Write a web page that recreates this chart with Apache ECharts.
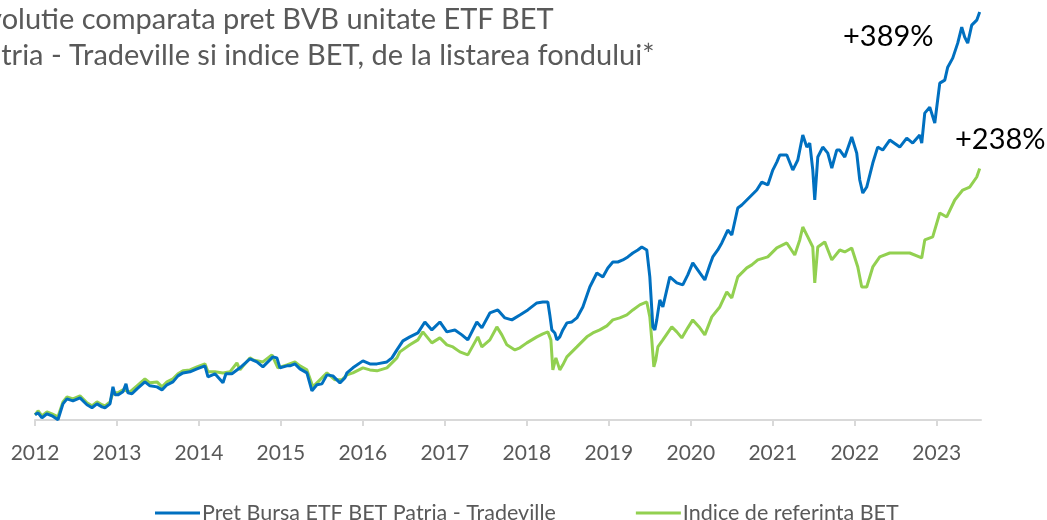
<!DOCTYPE html>
<html>
<head>
<meta charset="utf-8">
<script src="https://cdn.jsdelivr.net/npm/echarts@6/dist/echarts.min.js"></script>
<style>html,body{margin:0;padding:0;background:#fff}#c{width:1047px;height:520px}</style>
</head>
<body>
<div id="c"></div>
<script>
const titleLines = ["Evolutie comparata pret BVB unitate ETF BET", "Patria - Tradeville si indice BET, de la listarea fondului*"];
const seriesNames = ["Pret Bursa ETF BET Patria - Tradeville", "Indice de referinta BET"];
const tickYears = [2012,2013,2014,2015,2016,2017,2018,2019,2020,2021,2022,2023];
const annotations = ["+389%", "+238%"];

const blueYears = [2012.000,2012.037,2012.085,2012.146,2012.207,2012.280,2012.341,2012.390,2012.463,2012.549,2012.634,2012.695,2012.756,2012.817,2012.854,2012.915,2012.951,2012.976,2013.012,2013.073,2013.110,2013.134,2013.183,2013.244,2013.341,2013.402,2013.488,2013.549,2013.610,2013.683,2013.744,2013.805,2013.890,2013.976,2014.073,2014.110,2014.195,2014.293,2014.329,2014.402,2014.500,2014.622,2014.707,2014.780,2014.841,2014.902,2014.951,2014.988,2015.073,2015.110,2015.171,2015.232,2015.317,2015.378,2015.439,2015.500,2015.561,2015.634,2015.720,2015.780,2015.805,2015.878,2016.000,2016.085,2016.171,2016.293,2016.354,2016.415,2016.488,2016.573,2016.671,2016.756,2016.841,2016.939,2017.024,2017.122,2017.207,2017.280,2017.390,2017.451,2017.549,2017.646,2017.732,2017.817,2017.915,2018.012,2018.122,2018.195,2018.256,2018.280,2018.305,2018.341,2018.366,2018.402,2018.439,2018.488,2018.549,2018.610,2018.683,2018.768,2018.854,2018.927,2018.988,2019.049,2019.110,2019.171,2019.232,2019.293,2019.354,2019.402,2019.463,2019.500,2019.537,2019.561,2019.585,2019.622,2019.659,2019.707,2019.744,2019.829,2019.902,2019.963,2020.024,2020.110,2020.171,2020.232,2020.268,2020.329,2020.378,2020.451,2020.500,2020.573,2020.622,2020.683,2020.744,2020.805,2020.866,2020.939,2021.000,2021.049,2021.085,2021.171,2021.244,2021.305,2021.366,2021.415,2021.451,2021.488,2021.512,2021.549,2021.610,2021.671,2021.720,2021.780,2021.817,2021.878,2021.963,2022.024,2022.061,2022.098,2022.146,2022.220,2022.280,2022.341,2022.427,2022.549,2022.634,2022.707,2022.793,2022.817,2022.854,2022.915,2022.976,2023.037,2023.098,2023.134,2023.195,2023.256,2023.305,2023.341,2023.378,2023.427,2023.488,2023.524];
const blueValues = [100,101.9,97.1,101.0,99.0,95.2,110.6,115.4,113.5,116.4,109.7,106.8,110.6,107.7,106.8,110.6,127.0,119.3,119.3,122.2,129.9,121.2,120.3,125.1,131.8,128.0,127.0,124.1,129.0,131.8,137.6,140.5,141.5,144.4,147.3,136.7,139.6,130.9,139.6,139.6,145.4,154.0,151.1,146.3,151.1,156.0,155.0,145.4,147.3,147.3,149.2,144.4,140.5,123.2,129.0,129.9,138.6,137.6,130.9,135.7,140.5,145.4,152.1,149.2,149.2,151.1,155.0,162.7,171.4,175.3,179.1,189.7,182.0,189.7,180.1,182.0,177.2,172.4,189.7,184.0,198.4,201.3,193.6,191.7,196.5,201.3,208.1,209.0,209.0,196.5,182.0,179.1,172.4,175.3,182.0,188.8,189.7,193.6,204.2,223.5,237.0,233.2,241.9,247.6,247.6,249.6,252.5,256.3,259.2,262.1,259.2,233.2,184.9,182.0,191.7,211.0,204.2,220.6,233.2,227.4,225.5,235.1,246.7,237.0,230.3,244.8,252.5,259.2,266.0,278.5,273.7,299.8,302.7,307.5,312.3,317.1,324.8,322.0,336.4,344.1,350.9,350.9,336.4,346.1,370.2,358.6,362.5,336.4,307.5,349.0,358.6,352.8,338.4,355.7,355.7,349.0,368.3,352.8,326.8,314.2,320.0,343.2,358.6,355.7,365.4,358.6,367.3,362.5,370.2,362.5,391.4,397.2,381.8,420.4,423.3,435.8,444.5,459.0,474.4,464.8,459.0,476.4,481.2,489.0];

const greenYears = [2012.000,2012.037,2012.085,2012.146,2012.207,2012.280,2012.341,2012.390,2012.463,2012.549,2012.634,2012.695,2012.756,2012.817,2012.854,2012.915,2012.951,2013.012,2013.073,2013.159,2013.244,2013.341,2013.402,2013.488,2013.549,2013.610,2013.683,2013.744,2013.805,2013.890,2013.976,2014.073,2014.110,2014.195,2014.293,2014.378,2014.463,2014.500,2014.622,2014.659,2014.780,2014.890,2014.963,2015.073,2015.171,2015.232,2015.317,2015.390,2015.476,2015.561,2015.659,2015.744,2015.805,2015.878,2016.000,2016.085,2016.171,2016.293,2016.415,2016.451,2016.573,2016.671,2016.732,2016.841,2016.939,2017.024,2017.098,2017.183,2017.280,2017.402,2017.451,2017.549,2017.634,2017.695,2017.756,2017.854,2017.915,2018.000,2018.122,2018.195,2018.256,2018.293,2018.317,2018.354,2018.378,2018.402,2018.439,2018.488,2018.549,2018.610,2018.732,2018.805,2018.890,2018.976,2019.049,2019.134,2019.220,2019.293,2019.378,2019.463,2019.500,2019.524,2019.549,2019.573,2019.598,2019.659,2019.768,2019.829,2019.890,2019.963,2020.024,2020.110,2020.171,2020.256,2020.354,2020.439,2020.500,2020.573,2020.683,2020.744,2020.817,2020.939,2021.049,2021.171,2021.268,2021.329,2021.366,2021.427,2021.488,2021.512,2021.549,2021.634,2021.720,2021.817,2021.878,2021.963,2022.037,2022.085,2022.146,2022.220,2022.305,2022.427,2022.549,2022.671,2022.817,2022.854,2022.951,2023.037,2023.122,2023.220,2023.317,2023.402,2023.488,2023.524];
const greenValues = [100,103.9,99.0,102.9,101.0,98.1,112.5,117.4,115.4,118.3,111.6,108.7,112.5,109.7,108.7,112.5,121.2,121.2,124.1,122.2,128.0,134.7,130.9,131.8,127.0,131.8,134.7,139.6,142.5,143.4,146.3,149.2,141.5,141.5,140.5,141.5,150.2,143.4,155.0,153.1,151.1,157.9,145.4,148.3,151.1,147.3,143.4,127.0,133.8,140.5,133.8,133.8,138.6,140.5,145.4,143.4,142.5,145.4,155.0,160.8,167.6,172.4,180.1,169.5,174.3,167.6,165.6,160.8,157.9,175.3,165.6,172.4,184.9,177.2,167.6,162.7,164.7,169.5,175.3,178.2,180.1,172.4,143.4,155.0,156.0,143.4,148.3,156.0,160.8,165.6,175.3,179.1,182.0,185.9,191.7,193.6,196.5,201.3,206.2,209.0,194.6,172.4,146.3,153.1,165.6,172.4,184.9,180.1,174.3,184.0,191.7,184.0,177.2,194.6,204.2,218.7,212.9,233.2,241.9,244.8,249.6,252.5,261.2,266.0,254.4,268.9,281.4,271.8,262.1,227.4,262.1,267.0,249.6,259.2,257.3,261.2,242.8,223.5,223.5,242.8,252.5,256.3,256.3,256.3,251.5,268.9,271.8,294.9,291.1,307.5,317.1,320.0,329.7,338.0];

const zip = (xs, ys) => xs.map((x, i) => [x, ys[i]]);
const chart = echarts.init(document.getElementById('c'), null, {renderer: 'canvas'});
const FONT = 'Lato, "Open Sans", sans-serif';
chart.setOption({
  animation: false,
  grid: {left: 35, right: 66, top: 10, bottom: 100},
  xAxis: {
    type: 'value', min: 2012, max: 2023.54,
    splitLine: {show: false},
    axisLine: {lineStyle: {color: '#d9d9d9', width: 2}},
    axisTick: {show: true, length: 6, lineStyle: {color: '#d9d9d9', width: 2}, customValues: tickYears},
    axisLabel: {customValues: tickYears, formatter: v => String(Math.round(v)), color: '#595959', fontSize: 21, fontFamily: FONT, margin: 23}
  },
  yAxis: {type: 'value', min: 95, max: 491, show: false},
  legend: {
    top: 497, left: 150, itemGap: 80, itemWidth: 45, itemHeight: 3, icon: 'rect',
    textStyle: {color: '#595959', fontSize: 21.5, fontFamily: FONT, padding: [0,0,0,-3]},
    data: seriesNames
  },
  graphic: [
    {type: 'text', left: -29, top: 5, style: {text: titleLines[0], fill: '#595959', font: '29px ' + FONT}},
    {type: 'text', left: -30, top: 41, style: {text: titleLines[1], fill: '#595959', font: '29px ' + FONT}},
    {type: 'text', left: 843, top: 22, style: {text: annotations[0], fill: '#000', font: '29px ' + FONT}},
    {type: 'text', left: 955, top: 125, style: {text: annotations[1], fill: '#000', font: '29px ' + FONT}}
  ],
  series: [
    {name: seriesNames[0], type: 'line', data: zip(blueYears, blueValues), showSymbol: false, symbol: 'none', lineStyle: {color: '#0070C0', width: 3}, itemStyle: {color: '#0070C0'}, z: 3},
    {name: seriesNames[1], type: 'line', data: zip(greenYears, greenValues), showSymbol: false, symbol: 'none', lineStyle: {color: '#92D050', width: 3}, itemStyle: {color: '#92D050'}, z: 2}
  ]
});
</script>
</body>
</html>
